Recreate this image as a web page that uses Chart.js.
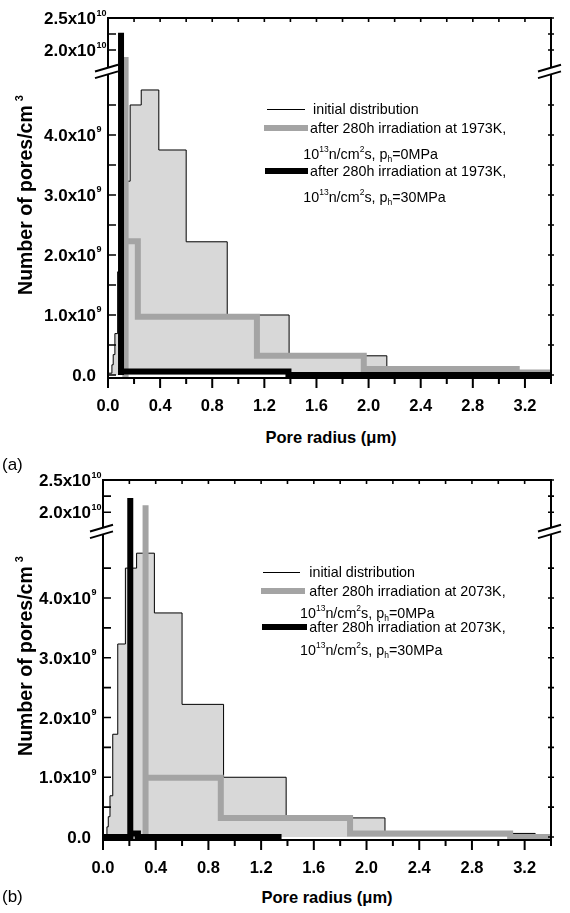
<!DOCTYPE html>
<html>
<head>
<meta charset="utf-8">
<title>Pore radius distributions</title>
<script src="https://cdn.jsdelivr.net/npm/chart.js@4.4.1/dist/chart.umd.min.js"></script>
<style>
  html, body { margin:0; padding:0; background:#fff; }
  body { position:relative; width:570px; height:913px; overflow:hidden;
         font-family:"Liberation Sans", Arial, Helvetica, sans-serif; color:#000; }
  .panel { position:absolute; left:0; width:570px; height:420px; }
  .panel canvas { position:absolute; left:0; top:0; }
  .t { position:absolute; white-space:nowrap; line-height:16px; }
  .leg { font-size:14.3px; }
  .leg sup { font-size:8.5px; position:relative; top:-7px; vertical-align:baseline; line-height:0; }
  .leg sub { font-size:8.5px; position:relative; top:3px; vertical-align:baseline; line-height:0; }
  .ttl { font-size:16.5px; font-weight:bold; line-height:20px; }
  .ytl { font-size:19.5px; }
  .ttl sup { font-size:11px; position:relative; top:-9px; vertical-align:baseline; line-height:0; margin-left:4px; }
  .plab { font-size:17px; line-height:20px; }
  .sample { position:absolute; }
</style>
</head>
<body>
<div class="panel" id="pa" style="top:0px"><canvas id="ca" width="570" height="420" style="width:570px;height:420px"></canvas></div>
<div class="panel" id="pb" style="top:462px"><canvas id="cb" width="570" height="420" style="width:570px;height:420px"></canvas></div>
<script>
// ---------------- data ----------------
const xTickValues = [0.0,0.2,0.4,0.6,0.8,1.0,1.2,1.4,1.6,1.8,2.0,2.2,2.4,2.6,2.8,3.0,3.2,3.4];
const xTickLabels = ['0.0','','0.4','','0.8','','1.2','','1.6','','2.0','','2.4','','2.8','','3.2',''];
const yLowTickValues = [0,0.5e9,1.0e9,1.5e9,2.0e9,2.5e9,3.0e9,3.5e9,4.0e9,4.5e9];
const yLowTickLabels = ['0.0','','1.0x10^9','','2.0x10^9','','3.0x10^9','','4.0x10^9',''];
const yHighTickValues = [2.0e10,2.25e10,2.5e10];
const yHighTickLabels = ['2.0x10^10','','2.5x10^10'];

// initial distribution (histogram bin edges in µm, counts per cm^3)
const initEdges  = [0, 0.03, 0.04, 0.053, 0.074, 0.112, 0.17, 0.255, 0.39, 0.60, 0.915, 1.39, 2.14, 3.28, 3.4];
const initCounts = [0.03e9, 0.17e9, 0.34e9, 0.69e9, 1.72e9, 3.23e9, 4.50e9, 4.75e9, 3.75e9, 2.22e9, 1.00e9, 0.32e9, 0.06e9, 0];

// (a) 1973K
const a0MPaEdges   = [0.11, 0.135, 0.135, 0.229, 1.143, 1.963, 3.137, 3.4];
const a0MPaCounts  = [0, 1.89e10, 2.23e9, 0.97e9, 0.32e9, 0.10e9, 0.04e9];
const a30MPaEdges  = [0.10, 0.10, 0.10, 1.385, 3.4];
const a30MPaCounts = [0, 2.27e10, 0.06e9, 0];

// (b) 2073K
const b0MPaEdges   = [0, 0.323, 0.323, 0.894, 1.875, 3.09, 3.4];
const b0MPaCounts  = [0, 2.11e10, 0.99e9, 0.32e9, 0.06e9, 0];
const b30MPaEdges  = [0, 0.207, 0.207, 0.265, 1.355];
const b30MPaCounts = [0, 2.22e10, 0.06e9, 0];

const legendInitial = 'initial distribution';
const legendLine1A = 'after 280h irradiation at 1973K,';
const legendLine1B = 'after 280h irradiation at 2073K,';
const legendLine2_0  = '10<sup>13</sup>n/cm<sup>2</sup>s, p<sub>h</sub>=0MPa';
const legendLine2_30 = '10<sup>13</sup>n/cm<sup>2</sup>s, p<sub>h</sub>=30MPa';
const xTitle = 'Pore radius (\u03bcm)';
const yTitle = 'Number of pores/cm<sup>3</sup>';
const panelLabels = ['(a)', '(b)'];

// ---------------- styling / layout ----------------
const FONT = '"Liberation Sans", Arial, Helvetica, sans-serif';
const GRAY = '#a4a4a4';
const FILL = '#d8d8d8';

function steps(edges, counts) {
  const pts = counts.map((c, i) => ({x: edges[i], y: c}));
  pts.push({x: edges[edges.length - 1], y: counts[counts.length - 1]});
  return pts;
}

const regionClip = {
  id: 'regionClip',
  beforeDatasetDraw(chart, args) {
    const ys = args.meta.yScale, a = chart.chartArea, ctx = chart.ctx;
    ctx.save();
    ctx.beginPath();
    ctx.rect(a.left, ys.top, a.right - a.left, ys.bottom - ys.top);
    ctx.clip();
  },
  afterDatasetDraw(chart) { chart.ctx.restore(); }
};

function drawBreak(ctx, cx, cy) {
  const l = 13, r = 10, rise = 6.7, gap = 6.6;
  const k = rise / (l + r);
  const y1 = cy - gap / 2, y2 = cy + gap / 2;
  ctx.fillStyle = '#fff';
  ctx.beginPath();
  ctx.moveTo(cx - l, y1 + k * l); ctx.lineTo(cx + r, y1 - k * r);
  ctx.lineTo(cx + r, y2 - k * r); ctx.lineTo(cx - l, y2 + k * l);
  ctx.closePath(); ctx.fill();
  ctx.strokeStyle = '#000'; ctx.lineWidth = 2;
  ctx.beginPath();
  ctx.moveTo(cx - l, y1 + k * l); ctx.lineTo(cx + r, y1 - k * r);
  ctx.moveTo(cx - l, y2 + k * l); ctx.lineTo(cx + r, y2 - k * r);
  ctx.stroke();
}

function drawYLabel(ctx, text, xr, y) {
  const parts = text.split('^');
  ctx.fillStyle = '#000';
  ctx.textBaseline = 'alphabetic';
  ctx.textAlign = 'right';
  ctx.font = 'bold 17px ' + FONT;
  ctx.fillText(parts[0], xr, y + 6);
  if (parts[1]) {
    ctx.textAlign = 'left';
    ctx.font = 'bold 9px ' + FONT;
    ctx.fillText(parts[1], xr + 0.5, y - 2.5);
  }
}

const framePlugin = {
  id: 'frame',
  afterDraw(chart) {
    const ctx = chart.ctx, a = chart.chartArea;
    const xs = chart.scales.x, lo = chart.scales.yLow, hi = chart.scales.yHigh;
    ctx.save();
    ctx.strokeStyle = '#000'; ctx.lineCap = 'butt'; ctx.lineWidth = 2;
    ctx.beginPath();
    ctx.moveTo(a.left - 1, a.top); ctx.lineTo(a.right + 1, a.top);
    ctx.moveTo(a.left - 1, a.bottom); ctx.lineTo(a.right + 1, a.bottom);
    ctx.moveTo(a.left, a.top); ctx.lineTo(a.left, a.bottom);
    ctx.moveTo(a.right, a.top); ctx.lineTo(a.right, a.bottom);
    ctx.stroke();
    // bottom ticks (outward)
    ctx.beginPath();
    xTickValues.forEach((v, i) => {
      const px = xs.getPixelForValue(v);
      ctx.moveTo(px, a.bottom); ctx.lineTo(px, a.bottom + (xTickLabels[i] ? 10 : 6));
    });
    ctx.stroke();
    // top ticks + y ticks (inward)
    ctx.lineWidth = 1.6;
    ctx.beginPath();
    xTickValues.forEach(v => {
      const px = xs.getPixelForValue(v);
      ctx.moveTo(px, a.top); ctx.lineTo(px, a.top + 4);
    });
    [[lo, yLowTickValues], [hi, yHighTickValues]].forEach(([s, vals]) => vals.forEach(v => {
      const py = s.getPixelForValue(v);
      ctx.moveTo(a.left, py); ctx.lineTo(a.left + 8, py);
      ctx.moveTo(a.right - 3, py); ctx.lineTo(a.right + 3, py);
    }));
    ctx.stroke();
    // y labels
    yLowTickValues.forEach((v, i) => { if (yLowTickLabels[i]) drawYLabel(ctx, yLowTickLabels[i], a.left - 12, lo.getPixelForValue(v)); });
    yHighTickValues.forEach((v, i) => { if (yHighTickLabels[i]) drawYLabel(ctx, yHighTickLabels[i], a.left - 12, hi.getPixelForValue(v)); });
    // axis breaks
    const by = lo.top + 1;
    drawBreak(ctx, a.left, by);
    drawBreak(ctx, a.right, by);
    ctx.restore();
  }
};

function makeChart(canvasId, geo, s0, s30) {
  const line = (data, color, width, axis, label, extra) => Object.assign({
    label, data, yAxisID: axis, borderColor: color, borderWidth: width,
    stepped: 'before', pointRadius: 0, pointHoverRadius: 0, fill: false,
    borderJoinStyle: 'miter', borderCapStyle: 'butt', tension: 0
  }, extra || {});
  const datasets = [];
  for (const axis of ['yHigh', 'yLow']) {
    datasets.push(line(steps(s30.edges, s30.counts), '#000', 6, axis, s30.label));
    datasets.push(line(steps(s0.edges, s0.counts), GRAY, 6, axis, s0.label));
  }
  datasets.push(line(steps(initEdges, initCounts), '#000', 1, 'yLow', legendInitial,
    {fill: 'origin', backgroundColor: FILL}));

  return new Chart(document.getElementById(canvasId), {
    type: 'line',
    data: { datasets },
    options: {
      responsive: false, animation: false, devicePixelRatio: 1,
      layout: { padding: { left: 0, top: 18, right: 570 - geo.right, bottom: 0 } },
      plugins: { legend: { display: false }, tooltip: { enabled: false } },
      scales: {
        x: {
          type: 'linear', min: 0, max: 3.4, position: 'bottom',
          grid: { display: false, drawTicks: false }, border: { display: false },
          afterBuildTicks: sc => { sc.ticks = xTickValues.map(v => ({ value: v })); },
          afterFit: sc => { sc.height = 42; },
          ticks: {
            autoSkip: false, maxRotation: 0, minRotation: 0, padding: 19, color: '#000',
            font: { family: FONT, size: 16.5, weight: 'bold' },
            callback: (v, i) => xTickLabels[i]
          }
        },
        yLow: {
          type: 'linear', position: 'left', stack: 'y', stackWeight: geo.loWeight, weight: 0,
          min: -0.05e9, max: geo.loMax,
          grid: { display: false, drawTicks: false }, border: { display: false },
          ticks: { display: false },
          afterFit: sc => { sc.width = geo.left; }
        },
        yHigh: {
          type: 'linear', position: 'left', stack: 'y', stackWeight: geo.hiWeight, weight: 1,
          min: geo.hiMin, max: 2.5e10,
          grid: { display: false, drawTicks: false }, border: { display: false },
          ticks: { display: false },
          afterFit: sc => { sc.width = geo.left; }
        }
      }
    },
    plugins: [regionClip, framePlugin]
  });
}

makeChart('ca', { left: 108, right: 554, loWeight: 308, hiWeight: 52, loMax: 5.083e9, hiMin: 1.6875e10 },
  { edges: a0MPaEdges, counts: a0MPaCounts, label: legendLine1A },
  { edges: a30MPaEdges, counts: a30MPaCounts, label: legendLine1A });
makeChart('cb', { left: 103, right: 551, loWeight: 310, hiWeight: 50, loMax: 5.138e9, hiMin: 1.726e10 },
  { edges: b0MPaEdges, counts: b0MPaCounts, label: legendLine1B },
  { edges: b30MPaEdges, counts: b30MPaCounts, label: legendLine1B });

// ---------------- HTML text: titles, legends, panel labels ----------------
function addText(cls, html, x, y, centered, rotate) {
  const d = document.createElement('div');
  d.className = 't ' + cls;
  d.innerHTML = html;
  d.style.left = x + 'px';
  d.style.top = y + 'px';
  let tr = 'translate(' + (centered ? '-50%' : '0') + ',-50%)';
  if (rotate) tr += ' rotate(-90deg)';
  d.style.transform = tr;
  document.body.appendChild(d);
}
function addSample(x1, x2, y, h, color) {
  const d = document.createElement('div');
  d.className = 'sample';
  d.style.left = x1 + 'px'; d.style.width = (x2 - x1) + 'px';
  d.style.top = (y - h / 2) + 'px'; d.style.height = h + 'px';
  d.style.background = color;
  document.body.appendChild(d);
}

// panel (a) legend
addSample(266.7, 305, 109, 1, '#000');   addText('leg', legendInitial, 313, 109);
addSample(264, 308.3, 128.3, 6, GRAY);   addText('leg', legendLine1A, 310, 128.3);
addText('leg', legendLine2_0, 303.3, 154);
addSample(265, 308.3, 170.7, 6, '#000'); addText('leg', legendLine1A, 310, 170.7);
addText('leg', legendLine2_30, 303.3, 197.3);
// panel (b) legend
addSample(263.3, 300, 572.3, 1, '#000'); addText('leg', legendInitial, 309.3, 572.3);
addSample(260.7, 305, 590.7, 6, GRAY);   addText('leg', legendLine1B, 309.3, 590.7);
addText('leg', legendLine2_0, 300, 613.3);
addSample(261.7, 306.7, 627.3, 6, '#000'); addText('leg', legendLine1B, 309.3, 627.3);
addText('leg', legendLine2_30, 300, 650);

// axis titles
addText('ttl', xTitle, 331, 437, true);
addText('ttl', xTitle, 327, 897, true);
addText('ttl ytl', yTitle, 25, 195, true, true);
addText('ttl ytl', yTitle, 25, 656, true, true);
// panel labels
addText('plab', panelLabels[0], 2, 465);
addText('plab', panelLabels[1], 2, 897);
</script>
</body>
</html>
